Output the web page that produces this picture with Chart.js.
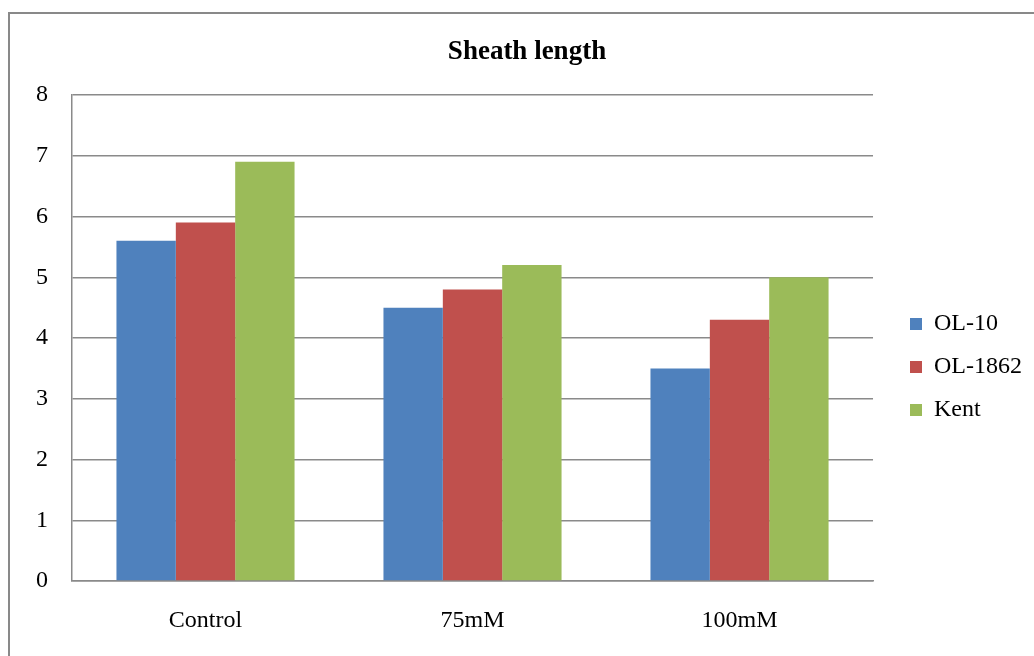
<!DOCTYPE html>
<html lang="en">
<head>
    <meta charset="UTF-8">
    <title>Sheath length</title>
    <script src="https://cdn.jsdelivr.net/npm/chart.js"></script>
    <style>
        body {
            margin: 0;
            background: #ffffff;
            overflow: hidden;
        }
        /* frame around the chart, runs off the right and bottom of the page */
        #frame {
            position: absolute;
            left: 8px;
            top: 12px;
            width: 1200px;
            height: 800px;
            border: 2px solid #898989;
        }
        #box {
            position: absolute;
            left: 0;
            top: 0;
            width: 1034px;
            height: 642px;
        }
    </style>
</head>
<body>

<div id="frame">
    <div id="box"><canvas id="sheathChart"></canvas></div>
</div>

<script>
    // data
    const categories = ['Control', '75mM', '100mM'];
    const seriesNames = ['OL-10', 'OL-1862', 'Kent'];
    const ol10 = [5.6, 4.5, 3.5];
    const ol1862 = [5.9, 4.8, 4.3];
    const kent = [6.9, 5.2, 5.0];
    const yTicks = [0, 1, 2, 3, 4, 5, 6, 7, 8];

    const colors = ['#4F81BD', '#C0504D', '#9BBB59'];
    const gridColor = '#8a8a8a';
    const font = 'Liberation Serif, Times New Roman, serif';

    Chart.defaults.font.family = font;
    Chart.defaults.color = '#000000';

    // nudge the legend and title so they sit where the original ones are
    const nudge = {
        id: 'nudge',
        afterLayout(chart) {
            const lg = chart.legend;
            if (lg) {
                lg.left += 18; lg.right += 18;
                lg.top += 29; lg.bottom += 29;
            }
            const tb = chart.titleBlock;
            if (tb) {
                tb.left += 15; tb.right += 15;
            }
        }
    };

    const ctx = document.getElementById('sheathChart').getContext('2d');
    new Chart(ctx, {
        type: 'bar',
        data: {
            labels: categories,
            datasets: [
                { label: seriesNames[0], data: ol10, backgroundColor: colors[0] },
                { label: seriesNames[1], data: ol1862, backgroundColor: colors[1] },
                { label: seriesNames[2], data: kent, backgroundColor: colors[2] }
            ]
        },
        options: {
            responsive: true,
            maintainAspectRatio: false,
            animation: false,
            datasets: {
                bar: { categoryPercentage: 0.667, barPercentage: 1.0, borderWidth: 0 }
            },
            layout: {
                padding: { left: 0, right: 30, top: 0, bottom: 0 }
            },
            scales: {
                x: {
                    afterFit: (scale) => { scale.height = 75; },
                    grid: { display: false, drawTicks: false },
                    border: { display: true, color: gridColor, width: 1.5 },
                    ticks: { padding: 25, font: { size: 24 } }
                },
                y: {
                    min: 0,
                    max: 8,
                    afterFit: (scale) => { scale.width = 62; },
                    afterBuildTicks: (scale) => {
                        scale.ticks = yTicks.map(v => ({ value: v }));
                    },
                    grid: { color: gridColor, lineWidth: 1.5, drawTicks: false },
                    border: { display: true, color: gridColor, width: 1.5 },
                    ticks: { padding: 24, font: { size: 24 } }
                }
            },
            plugins: {
                title: {
                    display: true,
                    text: 'Sheath length',
                    font: { size: 27, weight: 'bold' },
                    padding: { top: 22, bottom: 26.6 }
                },
                legend: {
                    position: 'right',
                    fullSize: false,
                    labels: {
                        boxWidth: 12,
                        boxHeight: 12,
                        padding: 19,
                        font: { size: 24 }
                    }
                },
                tooltip: { enabled: false }
            }
        },
        plugins: [nudge]
    });
</script>

</body>
</html>
